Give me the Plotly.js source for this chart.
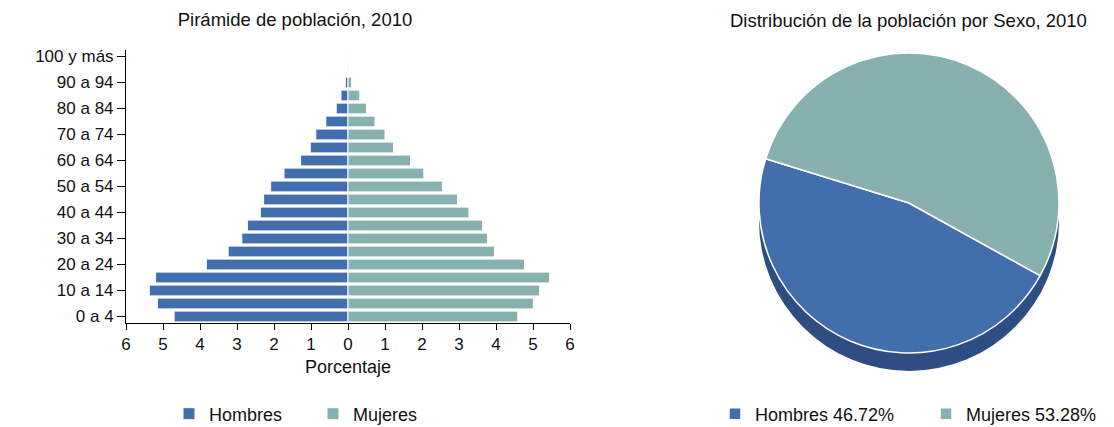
<!DOCTYPE html>
<html>
<head>
<meta charset="utf-8">
<script src="https://cdn.plot.ly/plotly-3.0.1.min.js"></script>
<style>html,body{margin:0;padding:0;background:#fff;}#chart{width:1114px;height:427px;}</style>
</head>
<body>
<div id="chart"></div>
<script>
// ---- Data ----
const ageGroups = ['0 a 4','5 a 9','10 a 14','15 a 19','20 a 24','25 a 29','30 a 34','35 a 39','40 a 44','45 a 49','50 a 54','55 a 59','60 a 64','65 a 69','70 a 74','75 a 79','80 a 84','85 a 89','90 a 94','95 a 99','100 y más'];
const hombres = [4.70, 5.15, 5.37, 5.20, 3.83, 3.24, 2.87, 2.72, 2.37, 2.28, 2.09, 1.73, 1.28, 1.02, 0.87, 0.60, 0.32, 0.19, 0.07, 0.01, 0.00];
const mujeres = [4.59, 5.01, 5.18, 5.45, 4.77, 3.96, 3.77, 3.64, 3.27, 2.96, 2.55, 2.05, 1.69, 1.23, 1.00, 0.73, 0.50, 0.32, 0.10, 0.02, 0.01];
const yTickLabels = ['0 a 4','10 a 14','20 a 24','30 a 34','40 a 44','50 a 54','60 a 64','70 a 74','80 a 84','90 a 94','100 y más'];
const xTickVals = [-6,-5,-4,-3,-2,-1,0,1,2,3,4,5,6];
const xTickText = ['6','5','4','3','2','1','0','1','2','3','4','5','6'];
const sexos = ['Hombres','Mujeres'];
const sexoPct = [46.72, 53.28];

const colorH = '#436EAE';
const colorM = '#87B1AE';
const font = 'Liberation Sans, Arial, sans-serif';

const traces = [
  {type:'bar', orientation:'h', name:'Hombres', y:ageGroups, x:hombres.map(v=>-v),
   marker:{color:colorH, line:{color:'#ffffff', width:1}}, legend:'legend', hoverinfo:'skip'},
  {type:'bar', orientation:'h', name:'Mujeres', y:ageGroups, x:mujeres,
   marker:{color:colorM, line:{color:'#ffffff', width:1}}, legend:'legend', hoverinfo:'skip'},
  {type:'pie', labels:sexos.map((s,i)=>s+' '+sexoPct[i].toFixed(2)+'%'), values:sexoPct,
   sort:false, direction:'counterclockwise', rotation:119, textinfo:'none', hoverinfo:'skip',
   marker:{colors:[colorH, colorM], line:{color:'#ffffff', width:1.5}},
   domain:{x:[0.6813,0.9506], y:[0.1733,0.8759]}, legend:'legend2'}
];

const layout = {
  width:1114, height:427,
  margin:{l:0,r:0,t:0,b:0,autoexpand:false},
  paper_bgcolor:'#ffffff', plot_bgcolor:'#ffffff',
  font:{family:font, size:17, color:'#111'},
  showlegend:true,
  barmode:'overlay', bargap:0.17,
  title:{text:'Pirámide de población, 2010', x:295/1114, xanchor:'center', xref:'paper',
         y:1-20/427, yanchor:'middle', yref:'container', font:{family:font, size:18.5, color:'#111'}},
  xaxis:{domain:[126/1114, 570/1114], range:[-6,6], tickvals:xTickVals, ticktext:xTickText,
         ticks:'outside', ticklen:6, tickcolor:'#000', showline:true, linecolor:'#000', linewidth:1,
         zeroline:false, showgrid:false, fixedrange:true, automargin:false,
         title:{text:'Porcentaje', standoff:6, font:{family:font, size:18}}},
  yaxis:{domain:[(427-323)/427, (427-50)/427], type:'category', tickvals:yTickLabels, ticktext:yTickLabels,
         ticks:'outside', ticklen:8, tickcolor:'#000', showline:true, linecolor:'#000', linewidth:1,
         zeroline:false, showgrid:false, fixedrange:true, range:[-0.5, 20.5], automargin:false},
  legend:{orientation:'h', x:169/1114, xanchor:'left', y:13/427, yanchor:'middle', entrywidth:99,
          font:{family:font, size:18}, bgcolor:'rgba(0,0,0,0)', traceorder:'normal'},
  legend2:{orientation:'h', x:715/1114, xanchor:'left', y:13/427, yanchor:'middle', entrywidth:166,
          font:{family:font, size:18}, bgcolor:'rgba(0,0,0,0)'},
  annotations:[
    {text:'Distribución de la población por Sexo, 2010', x:908/1114, y:1-20/427, xref:'paper', yref:'paper',
     xanchor:'center', yanchor:'middle', showarrow:false, font:{family:font, size:18.5, color:'#111'}}
  ],
  shapes:[
    {type:'circle', xref:'paper', yref:'paper', layer:'below',
     x0:759/1114, x1:1059/1114, y0:(427-371)/427, y1:(427-71)/427,
     fillcolor:'#2E4D82', line:{width:0}}
  ]
};

Plotly.newPlot('chart', traces, layout, {displayModeBar:false, staticPlot:true});
</script>
</body>
</html>
